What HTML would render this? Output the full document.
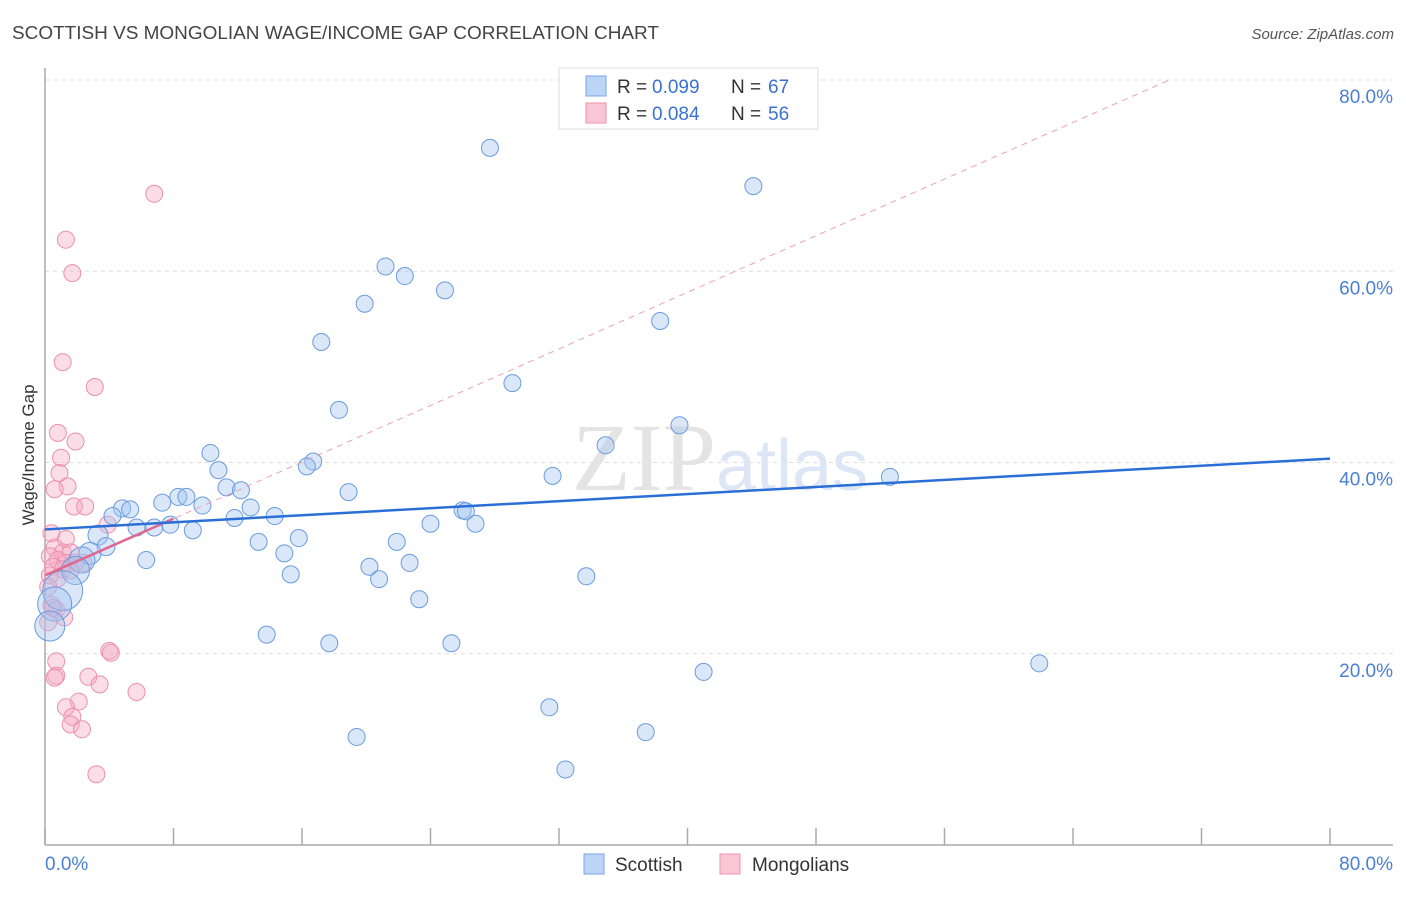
<!DOCTYPE html>
<html><head><meta charset="utf-8"><style>
body{margin:0;background:#fff;font-family:"Liberation Sans",sans-serif}
</style></head><body>
<svg width="1406" height="892" xmlns="http://www.w3.org/2000/svg" style="font-family:'Liberation Sans',sans-serif">
<text x="12" y="39" font-size="18" fill="#444" textLength="647" lengthAdjust="spacingAndGlyphs">SCOTTISH VS MONGOLIAN WAGE/INCOME GAP CORRELATION CHART</text>
<text x="1394" y="39" font-size="15" fill="#555" font-style="italic" text-anchor="end">Source: ZipAtlas.com</text>
<g id="grid"></g>
<text x="720" y="490" font-size="96" fill="#e4e4e4" text-anchor="middle" font-family="Liberation Serif,serif">ZIP<tspan fill="#dce6f5" font-family="Liberation Sans,sans-serif" font-size="72">atlas</tspan></text>
<g id="axes"></g>
<g id="pts"></g>
<g id="trend"></g>
<text transform="translate(34,455) rotate(-90)" font-size="17" fill="#333" text-anchor="middle">Wage/Income Gap</text>
<g>
<rect x="559" y="68" width="259" height="61" fill="#fff" stroke="#ddd"/>
<rect x="586" y="76" width="20" height="20" fill="#bcd4f5" stroke="#7aa5e8"/>
<rect x="586" y="103" width="20" height="20" fill="#f9c6d5" stroke="#ee92ae"/>
<text y="93" font-size="19" fill="#333"><tspan x="617">R =</tspan><tspan x="652" fill="#3a72d0">0.099</tspan><tspan x="731">N =</tspan><tspan x="768" fill="#3a72d0">67</tspan></text>
<text y="120" font-size="19" fill="#333"><tspan x="617">R =</tspan><tspan x="652" fill="#3a72d0">0.084</tspan><tspan x="731">N =</tspan><tspan x="768" fill="#3a72d0">56</tspan></text>
</g>
<g>
<rect x="584" y="854" width="20" height="20" fill="#bcd4f5" stroke="#7aa5e8"/>
<text x="615" y="871" font-size="19" fill="#333">Scottish</text>
<rect x="720" y="854" width="20" height="20" fill="#f9c6d5" stroke="#ee92ae"/>
<text x="752" y="871" font-size="19" fill="#333">Mongolians</text>
</g>
<script>
const yTicks=[20,40,60,80];
const yTickLabels=["20.0%","40.0%","60.0%","80.0%"];
const blueX=[27.7,44.1,21.2,22.4,19.9,24.9,38.3,17.2,29.1,18.3,39.5,34.9,10.3,16.7,16.3,10.8,31.6,52.6,11.3,12.2,18.9,8.3,8.8,7.3,9.8,12.8,4.8,5.3,4.2,26.0,26.2,14.3,11.8,24.0,26.8,5.7,6.8,7.8,9.2,3.3,15.8,13.3,21.9,3.8,14.9,2.8,6.3,22.7,20.2,2.3,1.9,20.8,15.3,33.7,1.1,23.3,0.6,0.3,13.8,17.7,25.3,61.9,41.0,31.4,37.4,19.4,32.4];
const blueY=[72.9,68.9,60.5,59.5,56.6,58.0,54.8,52.6,48.3,45.5,43.9,41.8,41.0,40.1,39.6,39.2,38.6,38.5,37.4,37.1,36.9,36.4,36.4,35.8,35.5,35.3,35.2,35.1,34.4,35.0,34.9,34.4,34.2,33.6,33.6,33.2,33.2,33.5,32.9,32.4,32.1,31.7,31.7,31.2,30.5,30.5,29.8,29.5,29.1,29.8,28.7,27.8,28.3,28.1,26.6,25.7,25.2,22.9,22.0,21.1,21.1,19.0,18.1,14.4,11.8,11.3,7.9];
const blueR=[8.5,8.5,8.5,8.5,8.5,8.5,8.5,8.5,8.5,8.5,8.5,8.5,8.5,8.5,8.5,8.5,8.5,8.5,8.5,8.5,8.5,8.5,8.5,8.5,8.5,8.5,8.5,8.5,8.5,8.5,8.5,8.5,8.5,8.5,8.5,8.5,8.5,8.5,8.5,10,8.5,8.5,8.5,9,8.5,11,8.5,8.5,8.5,13,14,8.5,8.5,8.5,20,8.5,17,15,8.5,8.5,8.5,8.5,8.5,8.5,8.5,8.5,8.5];
const pinkX=[6.8,1.3,1.7,1.1,3.1,0.8,1.9,1.0,0.9,1.4,0.6,1.8,2.5,3.9,0.4,1.3,0.6,1.1,1.6,0.3,0.8,1.3,1.9,2.4,0.5,1.1,1.6,0.3,0.8,0.2,0.4,0.7,1.2,0.2,0.5,4.0,4.1,0.7,0.7,0.6,2.7,3.4,5.7,2.1,1.3,1.7,1.6,2.3,3.2];
const pinkY=[68.1,63.3,59.8,50.5,47.9,43.1,42.2,40.5,38.9,37.5,37.2,35.4,35.4,33.5,32.6,32.0,31.1,30.6,30.6,30.2,29.8,29.5,29.5,29.5,29.1,28.8,28.7,28.2,27.9,27.0,25.1,24.6,23.8,23.3,24.8,20.3,20.1,19.2,17.7,17.5,17.6,16.8,16.0,15.0,14.4,13.4,12.6,12.1,7.4];
const blueTrend=[0,33.0,80,40.4];
const pinkTrend=[0,28.2,70,80];
const NS="http://www.w3.org/2000/svg";
const X0=45,X1=1330,Y0=845,YT=80;
const sx=v=>X0+v/80*(X1-X0);
const sy=v=>Y0-v/80*(Y0-YT);
function mk(t,a,p){const e=document.createElementNS(NS,t);for(const k in a)e.setAttribute(k,a[k]);p.appendChild(e);return e;}
const grid=document.getElementById('grid');
yTicks.forEach((t,i)=>{
 const l=mk('line',{x1:X0,x2:1393,y1:sy(t),y2:sy(t),stroke:'#ddd','stroke-dasharray':'4,4'},grid);
 
 
 const tx=mk('text',{x:1393,y:sy(t)+23,'font-size':19,fill:'#4a7fd4','text-anchor':'end'},grid);
 tx.textContent=yTickLabels[i];
 
 
});
const ax=document.getElementById('axes');
mk('line',{x1:X0,x2:X0,y1:68,y2:Y0,stroke:'#aaa','stroke-width':1.5},ax);
mk('line',{x1:X0,x2:1393,y1:Y0,y2:Y0,stroke:'#aaa','stroke-width':1.5},ax);
for(let i=0;i<=10;i++){const tk=mk('line',{x1:sx(i*8),x2:sx(i*8),y1:828,y2:Y0,stroke:'#aaa','stroke-width':1.5},ax);
 
 }
const xl0=mk('text',{x:45,y:870,'font-size':19,fill:'#4a7fd4'},ax);xl0.textContent='0.0%';


const xl1=mk('text',{x:1393,y:870,'font-size':19,fill:'#4a7fd4','text-anchor':'end'},ax);xl1.textContent='80.0%';


const pts=document.getElementById('pts');
pinkX.forEach((x,i)=>{const c=mk('circle',{cx:sx(x),cy:sy(pinkY[i]),r:8.5,fill:'rgba(246,170,195,0.4)',stroke:'#ee8fae','stroke-width':1},pts);
 
 });
blueX.forEach((x,i)=>{const c=mk('circle',{cx:sx(x),cy:sy(blueY[i]),r:blueR[i],fill:'rgba(160,195,240,0.4)',stroke:'#6a9be0','stroke-width':1},pts);
 
 });
const tr=document.getElementById('trend');
const pd=mk('line',{x1:sx(pinkTrend[0]),y1:sy(pinkTrend[1]),x2:sx(pinkTrend[2]),y2:sy(pinkTrend[3]),stroke:'#eaa0b8','stroke-width':1,'stroke-dasharray':'6,5'},tr);


const slope=(pinkTrend[3]-pinkTrend[1])/(pinkTrend[2]-pinkTrend[0]);
const ps=mk('line',{x1:sx(0),y1:sy(pinkTrend[1]),x2:sx(8),y2:sy(pinkTrend[1]+slope*8),stroke:'#e0668e','stroke-width':2.5},tr);


const bt=mk('line',{x1:sx(blueTrend[0]),y1:sy(blueTrend[1]),x2:sx(blueTrend[2]),y2:sy(blueTrend[3]),stroke:'#2b6fd6','stroke-width':2.5},tr);


</script>
</svg>
</body></html>
